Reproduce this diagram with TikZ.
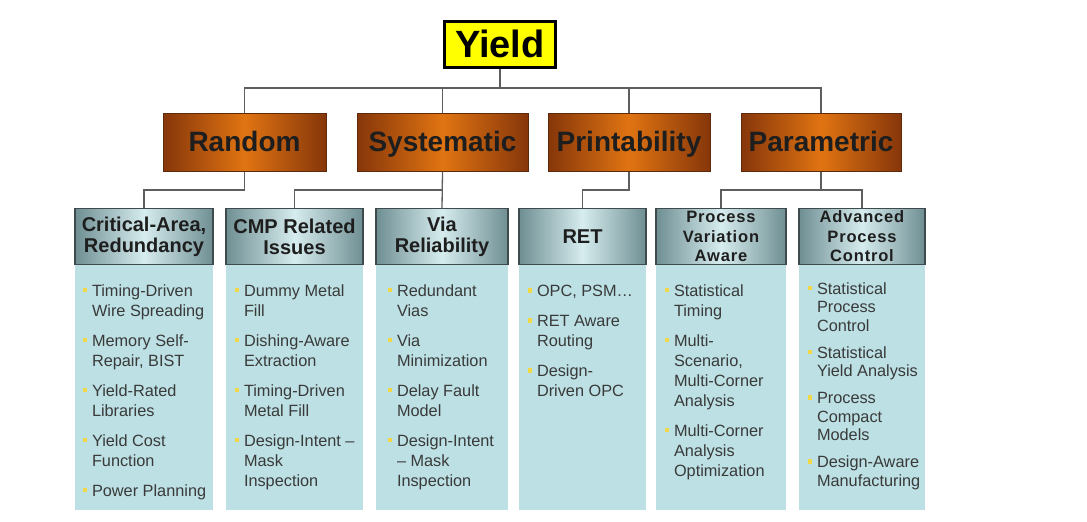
\documentclass[tikz,border=0pt]{standalone}
\usepackage{fontspec}
\setmainfont{Liberation Sans}
\usetikzlibrary{positioning}
\definecolor{yieldbg}{HTML}{FFFF00}
\definecolor{rust}{HTML}{86360A}
\definecolor{amber}{HTML}{E07412}
\definecolor{rustline}{HTML}{5C2A0C}
\definecolor{slate}{HTML}{6F8F93}
\definecolor{frost}{HTML}{D6ECEE}
\definecolor{slateline}{HTML}{3E4A4C}
\definecolor{panebg}{HTML}{BCE0E3}
\definecolor{wire}{HTML}{5E5E5E}
\definecolor{ink}{HTML}{1E1E1E}
\definecolor{bodytext}{HTML}{3A3A3A}
\definecolor{dotc}{HTML}{F0D848}
\newcommand{\bul}{\llap{\textcolor{dotc}{\rule[4pt]{4.5pt}{4.5pt}}\hspace{5pt}}}
\tikzset{
  root/.style={draw=black, line width=2.6pt, fill=yieldbg, minimum width=111pt, minimum height=46pt, inner sep=0pt, text height=27pt, text depth=1pt, font=\fontsize{38}{40}\selectfont\bfseries},
  cat/.style={draw=rustline, line width=0.8pt, left color=rust, right color=rust, middle color=amber, minimum height=58pt, inner sep=0pt, text height=20pt, text depth=2pt, text=ink, font=\fontsize{28}{30}\selectfont\bfseries},
  sub/.style={draw=slateline, line width=1.2pt, left color=slate, right color=slate, middle color=frost, minimum height=56pt, inner sep=0pt, text=ink, align=center, font=\fontsize{20}{21}\selectfont\bfseries},
  subs/.style={sub, font=\fontsize{16.5}{19.5}\selectfont\bfseries\addfontfeature{LetterSpace=5}},
  pane/.style={fill=panebg, draw=none, inner sep=0pt, minimum height=245pt},
  items/.style={anchor=north west, inner sep=0pt, align=left, text=bodytext, font=\fontsize{16.3}{20}\selectfont},
  itemst/.style={items, font=\fontsize{16.3}{18.5}\selectfont},
  link/.style={draw=wire, line width=1.3pt},
}
\begin{document}
\begin{tikzpicture}[x=1pt,y=-1pt]
  \fill[white] (0,0) rectangle (1087,522);
  \useasboundingbox (0,0) rectangle (1087,522);
  \coordinate (bus1) at (0,88);
  \coordinate (bus2) at (0,190);

  \node[root] (yield) at (500,44.5) {Yield};

  \node[cat, minimum width=163pt] (random) at (244.5,142.5) {Random};
  \node[cat, minimum width=171pt] (syst) at (442.5,142.5) {Systematic};
  \node[cat, minimum width=162pt] (print) at (629,142.5) {Printability};
  \node[cat, minimum width=160pt] (param) at (821,142.5) {Parametric};

  \node[sub, minimum width=138pt] (crit) at (144,236.5) {Critical-Area,\\Redundancy};
  \node[sub, minimum width=137pt] (cmp) at (294.5,236.5) {CMP Related\\Issues};
  \node[sub, minimum width=132pt] (via) at (442,236.5) {Via\\Reliability};
  \node[sub, minimum width=127pt] (ret) at (582.5,236.5) {RET};
  \node[subs, minimum width=130pt] (pva) at (721,236.5) {Process\\Variation\\Aware};
  \node[subs, minimum width=126pt] (apc) at (862,236.5) {Advanced\\Process\\Control};

  \node[pane, minimum width=138pt, below=0pt of crit] (critb) {};
  \node[pane, minimum width=137pt, below=0pt of cmp] (cmpb) {};
  \node[pane, minimum width=132pt, below=0pt of via] (viab) {};
  \node[pane, minimum width=127pt, below=0pt of ret] (retb) {};
  \node[pane, minimum width=130pt, below=0pt of pva] (pvab) {};
  \node[pane, minimum width=126pt, below=0pt of apc] (apcb) {};

  \node[items, below right=19pt and 17pt of critb.north west] (critl) {\bul Timing-Driven\\Wire Spreading\\[10pt]\bul Memory Self-\\Repair, BIST\\[10pt]\bul Yield-Rated\\Libraries\\[10pt]\bul Yield Cost\\Function\\[10pt]\bul Power Planning};
  \node[items, below right=19pt and 18pt of cmpb.north west] (cmpl) {\bul Dummy Metal\\Fill\\[10pt]\bul Dishing-Aware\\Extraction\\[10pt]\bul Timing-Driven\\Metal Fill\\[10pt]\bul Design-Intent --\\Mask\\Inspection};
  \node[items, below right=19pt and 21pt of viab.north west] (vial) {\bul Redundant\\Vias\\[10pt]\bul Via\\Minimization\\[10pt]\bul Delay Fault\\Model\\[10pt]\bul Design-Intent\\-- Mask\\Inspection};
  \node[items, below right=20pt and 18pt of retb.north west] (retl) {\bul OPC, PSM\dots\\[10pt]\bul RET Aware\\Routing\\[10pt]\bul Design-\\Driven OPC};
  \node[items, below right=19pt and 18pt of pvab.north west] (pval) {\bul Statistical\\Timing\\[10pt]\bul Multi-\\Scenario,\\Multi-Corner\\Analysis\\[10pt]\bul Multi-Corner\\Analysis\\Optimization};
  \node[itemst, below right=17pt and 18pt of apcb.north west] (apcl) {\bul Statistical\\Process\\Control\\[8.5pt]\bul Statistical\\Yield Analysis\\[8.5pt]\bul Process\\Compact\\Models\\[8.5pt]\bul Design-Aware\\Manufacturing};

  \draw[link] (yield.south) -- (yield.south |- bus1);
  \draw[link] (random.north) |- (param.north |- bus1) -- (param.north);
  \draw[link] (syst.north) -- (syst.north |- bus1);
  \draw[link] (print.north) -- (print.north |- bus1);

  \draw[link] (random.south) |- (crit.north |- bus2) -- (crit.north);
  \draw[link] (syst.south) -- (via.north);
  \draw[link] (syst.south |- bus2) -| (cmp.north);
  \draw[link] (print.south) |- (ret.north |- bus2) -- (ret.north);
  \draw[link] (pva.north) |- (apc.north |- bus2) -- (apc.north);
  \draw[link] (param.south) -- (param.south |- bus2);
\end{tikzpicture}
\end{document}
